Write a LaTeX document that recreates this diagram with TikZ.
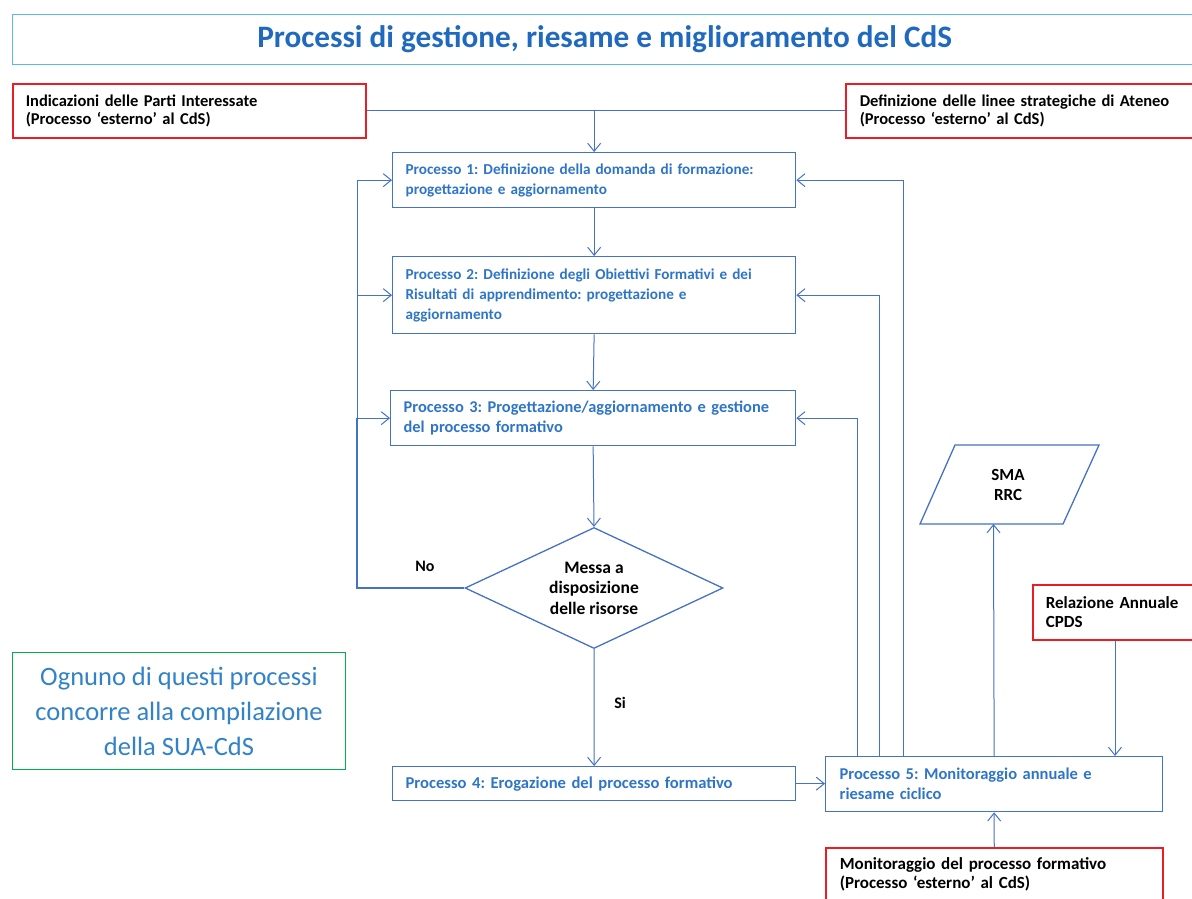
\documentclass[tikz,border=0pt]{standalone}
\usepackage{fontspec}
\setmainfont{Carlito}
\usetikzlibrary{arrows.meta,shapes.geometric}
\definecolor{lblue}{RGB}{68,114,196}
\definecolor{tblue}{RGB}{46,117,200}
\definecolor{titleblue}{RGB}{31,105,190}
\definecolor{titleborder}{RGB}{90,185,235}
\definecolor{redc}{RGB}{235,28,36}
\definecolor{greenc}{RGB}{0,176,80}
\definecolor{gtext}{RGB}{50,130,200}
\frenchspacing
\begin{document}
\begin{tikzpicture}[x=1pt,y=-1pt,
  conn/.style={draw=lblue,line width=1pt},
  arr/.style={-{Straight Barb[length=8pt,width=13pt]}},
  proc/.style={draw=lblue,line width=1.3pt,text=tblue,align=left,anchor=north west,inner xsep=13pt,inner ysep=0pt},
  redbox/.style={draw=redc,line width=1.5pt,text=black,align=left,anchor=north west,inner xsep=13pt,inner ysep=0pt},
  lbl/.style={font=\fontsize{16}{18}\selectfont\bfseries,text=black}
]
\useasboundingbox (0,0) rectangle (1192,898);
\clip (0,0) rectangle (1192,898);

% title
\node[draw=titleborder,line width=1.3pt,anchor=north west,minimum width=1184pt,minimum height=50pt,
      text=titleblue,font=\fontsize{31.2}{33}\selectfont\bfseries] (title) at (12,14)
      {Processi di gestione, riesame e miglioramento del CdS};

% external inputs
\node[redbox,text width=327pt,minimum height=54pt,font=\fontsize{16.5}{18}\selectfont\bfseries] (ext1) at (12,83)
  {Indicazioni delle Parti Interessate\\(Processo ‘esterno’ al CdS)};
\node[redbox,inner xsep=14pt,text width=335pt,minimum height=54pt,font=\fontsize{16.5}{18}\selectfont\bfseries] (ext2) at (845,83)
  {Definizione delle linee strategiche di Ateneo\\(Processo ‘esterno’ al CdS)};

% processes
\node[proc,text width=377pt,minimum height=55pt,font=\fontsize{15.2}{20}\selectfont\bfseries] (p1) at (392,152)
  {Processo 1: Definizione della domanda di formazione:\\progettazione e aggiornamento};
\node[proc,text width=377pt,minimum height=77pt,font=\fontsize{15.2}{20}\selectfont\bfseries] (p2) at (392,256)
  {Processo 2: Definizione degli Obiettivi Formativi e dei\\Risultati di apprendimento: progettazione e\\aggiornamento};
\node[proc,text width=379pt,minimum height=55pt,font=\fontsize{16.4}{20}\selectfont\bfseries] (p3) at (390,390)
  {Processo 3: Progettazione/aggiornamento e gestione\\del processo formativo};
\node[draw=lblue,line width=1.3pt,diamond,aspect=2,inner sep=0pt,minimum width=258pt,minimum height=121pt,
      align=center,font=\fontsize{17.5}{20.5}\selectfont\bfseries] (dec) at (594,588)
  {Messa a\\disposizione\\delle risorse};
\node[proc,text width=377pt,minimum height=34pt,font=\fontsize{16.6}{20}\selectfont\bfseries] (p4) at (392,766)
  {Processo 4: Erogazione del processo formativo};
\node[proc,inner xsep=14pt,text width=309pt,minimum height=55pt,font=\fontsize{16.5}{20}\selectfont\bfseries] (p5) at (825,756)
  {Processo 5: Monitoraggio annuale e\\riesame ciclico};

% outputs / other inputs
\draw[draw=lblue,line width=1.3pt] (955,445) -- (1099,445) -- (1063,524) -- (920,524) -- cycle;
\node[font=\fontsize{17}{20}\selectfont\bfseries,align=center] (sma) at (1008,485) {SMA\\RRC};
\coordinate (smab) at (993.5,524);
\node[redbox,text width=160pt,minimum height=55pt,font=\fontsize{17}{19}\selectfont\bfseries] (rel) at (1032,584)
  {Relazione Annuale\\CPDS};
\node[redbox,inner xsep=14pt,text width=309pt,minimum height=53pt,font=\fontsize{17}{19}\selectfont\bfseries] (mon) at (825,847)
  {Monitoraggio del processo formativo\\(Processo ‘esterno’ al CdS)};

% note
\node[draw=greenc,line width=1pt,anchor=north west,minimum width=333pt,minimum height=117pt,align=center,
      text=gtext,font=\fontsize{26.5}{35}\selectfont] (note) at (12,652)
  {Ognuno di questi processi\\concorre alla compilazione\\della SUA-CdS};

% labels
\node[lbl] (no) at (425,566) {No};
\node[lbl] (si) at (620,703) {Si};

% connectors
\draw[conn] (ext1.east) -- (ext2.west);
\draw[conn,arr] (p1.north |- ext1.east) -- (p1.north);
\draw[conn,arr] (p1.south) -- (p2.north);
\draw[conn,arr] (p2.south) -- (p3.north);
\draw[conn,arr] (p3.south) -- (dec.north);
\draw[conn,arr] (dec.south) -- (p4.north);
\draw[conn,arr] (p4.east) -- (p4.east -| p5.west);

\coordinate (lx) at (357,0);
\draw[conn] (lx |- p1.west) -- (lx |- p3.west);
\draw[conn,line width=1.8pt] (dec.west) -| (lx |- p3.west);
\draw[conn,arr] (lx |- p1.west) -- (p1.west);
\draw[conn,arr] (lx |- p2.west) -- (p2.west);
\draw[conn,arr] (lx |- p3.west) -- (p3.west);

\draw[conn,arr] ([xshift=32pt]p5.north west) |- (p3.east);
\draw[conn,arr] ([xshift=54pt]p5.north west) |- (p2.east);
\draw[conn,arr] ([xshift=78pt]p5.north west) |- (p1.east);

\draw[conn,arr] (p5.north) -- (smab);
\coordinate (relout) at ([xshift=83pt]rel.south west);
\draw[conn,arr] (relout) -- (relout |- p5.north);
\draw[conn,arr] (mon.north) -- (p5.south);
\end{tikzpicture}
\end{document}
